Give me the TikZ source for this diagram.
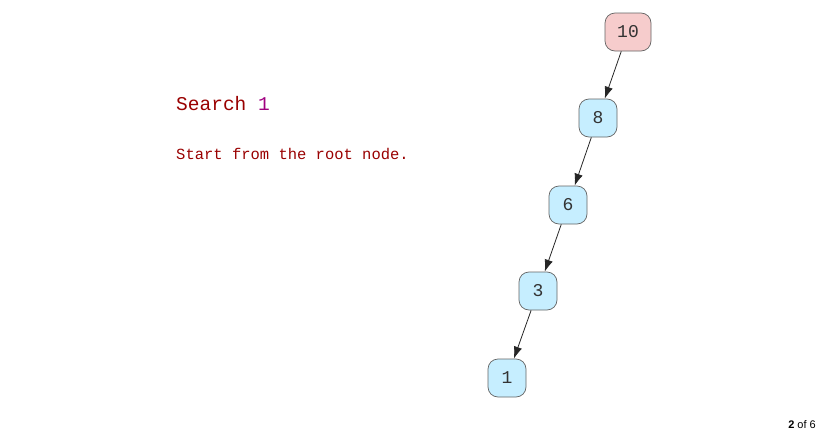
\documentclass[tikz,border=0pt]{standalone}
\usepackage{fontspec}
\setmainfont{Liberation Mono}
\newfontfamily\pagerfont{Liberation Sans}
\usetikzlibrary{arrows.meta, positioning}
\definecolor{rootpink}{RGB}{246, 204, 204}
\definecolor{nodeblue}{RGB}{198, 238, 255}
\definecolor{edgegray}{RGB}{100, 100, 100}
\definecolor{textred}{RGB}{153, 0, 0}
\definecolor{valpurple}{RGB}{160, 0, 128}

\tikzset{
    treenode/.style={draw=edgegray, line width=0.7pt, rounded corners=10pt, fill=nodeblue,
        minimum width=38pt, minimum height=38pt, inner sep=0pt, text=black!80, font=\fontsize{18}{18}\selectfont},
    rootnode/.style={treenode, fill=rootpink, minimum width=46pt},
    treeedge/.style={-{Latex[length=12pt, width=8.5pt]}, line width=0.8pt, draw=black!85}
}

\begin{document}
\begin{tikzpicture}[x=1pt, y=-1pt]
        \useasboundingbox (0,0) rectangle (823,434);

        \node[rootnode] (n10) at (628,32) {10};
        \node[treenode] (n8) at (598,118) {8};
        \node[treenode] (n6) at (568,205) {6};
        \node[treenode] (n3) at (538,291) {3};
        \node[treenode] (n1) at (507,378) {1};

        \draw[treeedge] (n10) -- (n8);
        \draw[treeedge] (n8) -- (n6);
        \draw[treeedge] (n6) -- (n3);
        \draw[treeedge] (n3) -- (n1);

        \node[anchor=base west, inner sep=0pt, font=\fontsize{19.5}{19.5}\selectfont] (title) at (176,110)
            {\textcolor{textred}{Search} \textcolor{valpurple}{1}};
        \node[anchor=base west, inner sep=0pt, font=\fontsize{15.5}{15.5}\selectfont, text=textred] (step) at (176,159)
            {Start from the root node.};

        \node[anchor=base east, inner sep=0pt, font=\pagerfont\fontsize{11}{11}\selectfont] (pager) at (816,428)
            {\textbf{2} of 6};
    \end{tikzpicture}
\end{document}
